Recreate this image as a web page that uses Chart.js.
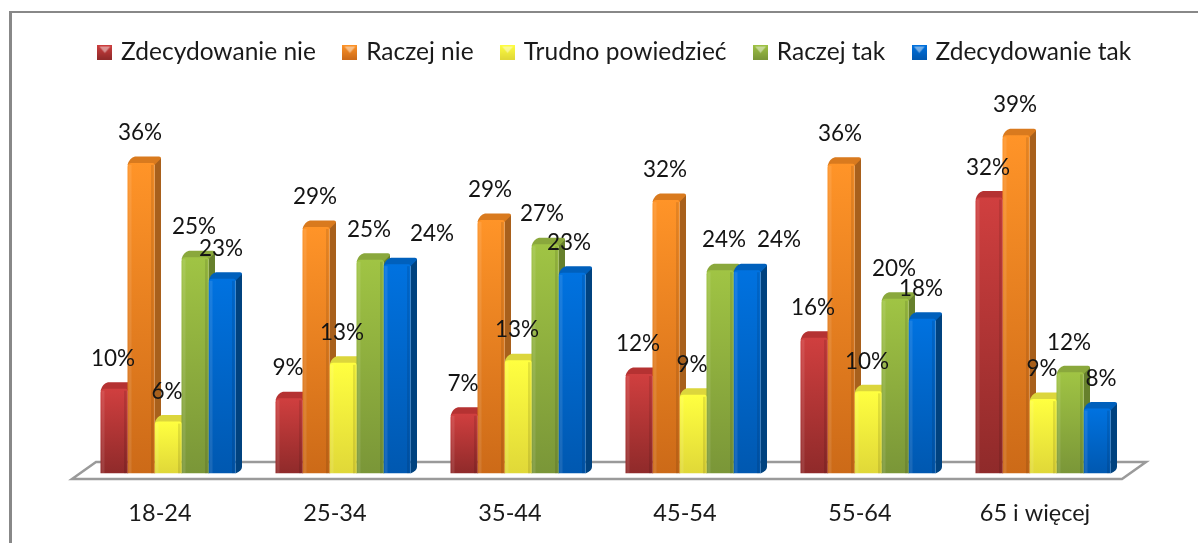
<!DOCTYPE html>
<html>
<head>
<meta charset="utf-8">
<style>html,body{margin:0;padding:0;background:#fff}canvas{display:block}</style>
<script src="https://cdn.jsdelivr.net/npm/chart.js@4"></script>
</head>
<body>
<canvas id="c" width="1198" height="543"></canvas>
<script>
const categories = ["18-24","25-34","35-44","45-54","55-64","65 i więcej"];
const seriesNames = ["Zdecydowanie nie","Raczej nie","Trudno powiedzieć","Raczej tak","Zdecydowanie tak"];
const zdecydowanieNie = [9.8,8.7,6.9,11.5,15.7,31.9];
const raczejNie = [35.9,28.5,29.3,31.6,35.8,39.1];
const trudnoPowiedziec = [6,12.8,13.1,9.1,9.5,8.6];
const raczejTak = [25,24.7,26.5,23.5,20.2,11.7];
const zdecydowanieTak = [22.5,24.2,23.2,23.5,17.9,7.5];
const seriesValues = [zdecydowanieNie,raczejNie,trudnoPowiedziec,raczejTak,zdecydowanieTak];
const frontTop = ["#d03f3f","#ff9428","#ffff40","#a0c444","#0072e0"];
const frontBottom = ["#8f2a2a","#cc6a18","#e0d838","#7a9638","#0058b0"];
const capColors = ["#b53232","#d97a1e","#dcd63c","#8aa83c","#0060bc"];
const sideColors = ["#8a2727","#a8601c","#b0a828","#66802c","#00427f"];

const DEPTH = 6.5;
const FONT = "Lato";
const labelNudge = {"4,1":35,"3,3":4,"3,2":-3,"4,2":-3,"4,3":32,"4,5":4};

function legendIcon(i){
  const s = 15, cv = document.createElement('canvas');
  cv.width = s; cv.height = s;
  const g = cv.getContext('2d');
  const gr = g.createLinearGradient(0,0,0,s);
  gr.addColorStop(0,frontTop[i]); gr.addColorStop(1,frontBottom[i]);
  g.fillStyle = gr; g.fillRect(0,0,s,s);
  g.fillStyle = "rgba(255,255,255,.45)";
  g.beginPath(); g.moveTo(2,2); g.lineTo(s-2,2); g.lineTo(s/2,s/2+1); g.closePath(); g.fill();
  return cv;
}

const scene = {
  id:'scene',
  afterLayout(chart){
    chart.legend.left += 17; chart.legend.right += 17;
  },
  beforeDraw(chart){
    const c = chart.ctx;
    c.save();
    c.fillStyle = "#fff"; c.fillRect(0,0,chart.width,chart.height);
    c.strokeStyle = "#888888"; c.lineCap = "butt";
    c.lineWidth = 2; c.beginPath(); c.moveTo(9,12); c.lineTo(chart.width,12); c.stroke();
    c.lineWidth = 3; c.beginPath(); c.moveTo(10.5,11); c.lineTo(10.5,chart.height); c.stroke();
    c.restore();
  },
  beforeDatasetsDraw(chart){
    const c = chart.ctx, xs = chart.scales.x, y0 = chart.scales.y.getPixelForValue(0);
    c.save();
    const l = xs.left-8.5, r = xs.right-8.5, f = y0+5.5, b = y0-11.5, d = 24;
    c.strokeStyle = "#9a9a9a"; c.lineWidth = 2.5; c.fillStyle = "#fff";
    c.beginPath(); c.moveTo(l,f); c.lineTo(l+d,b); c.lineTo(r+d,b); c.lineTo(r,f); c.closePath();
    c.fill(); c.stroke();
    seriesValues.forEach((vals,i)=>{
      chart.getDatasetMeta(i).data.forEach(bar=>{
        const x0 = bar.x-bar.width/2, x1 = bar.x+bar.width/2, t = bar.y, base = bar.base;
        const xr = x1+DEPTH, yt = t-DEPTH;
        c.fillStyle = sideColors[i];
        c.beginPath();
        c.moveTo(x1,t); c.lineTo(xr,yt+1); c.lineTo(xr,base-DEPTH); c.quadraticCurveTo(xr,base-3,x1,base);
        c.closePath(); c.fill();
        c.fillStyle = capColors[i];
        c.beginPath();
        c.moveTo(x0,t+2); c.quadraticCurveTo(x0+2,yt+1,x0+DEPTH+1,yt);
        c.lineTo(xr-2,yt); c.quadraticCurveTo(xr,yt,xr,yt+2); c.lineTo(x1,t+2);
        c.closePath(); c.fill();
      });
    });
    c.restore();
  },
  afterDatasetsDraw(chart){
    const c = chart.ctx;
    c.save();
    seriesValues.forEach((vals,i)=>{
      chart.getDatasetMeta(i).data.forEach(bar=>{
        const x0 = bar.x-bar.width/2, x1 = bar.x+bar.width/2;
        c.fillStyle = "rgba(255,255,255,.10)";
        c.fillRect(x0+1,bar.y+2,3,bar.base-bar.y-2);
        c.fillStyle = "rgba(0,0,0,.10)";
        c.fillRect(x1-3.5,bar.y+2,2.5,bar.base-bar.y-2);
      });
    });
    c.font = "22.5px "+FONT; c.fillStyle = "#141414"; c.textAlign = "center"; c.textBaseline = "middle";
    seriesValues.forEach((vals,i)=>{
      chart.getDatasetMeta(i).data.forEach((bar,j)=>{
        const nudge = labelNudge[i+","+j] || -1;
        c.fillText(Math.round(vals[j])+"%",bar.x+nudge,bar.y-30);
      });
    });
    c.restore();
  }
};

new Chart(document.getElementById('c'),{
  type:'bar',
  data:{
    labels:categories,
    datasets:seriesNames.map((name,i)=>({
      label:name,
      data:seriesValues[i],
      pointStyle:legendIcon(i),
      backgroundColor(ctx){
        const ys = ctx.chart.scales && ctx.chart.scales.y;
        if(!ys || ctx.raw === undefined) return frontTop[i];
        const top = ys.getPixelForValue(ctx.raw), bot = ys.getPixelForValue(0);
        if(!isFinite(top) || !isFinite(bot)) return frontTop[i];
        const g = ctx.chart.ctx.createLinearGradient(0,top,0,bot);
        g.addColorStop(0,frontTop[i]); g.addColorStop(1,frontBottom[i]);
        return g;
      },
      borderRadius:{topLeft:4,topRight:2,bottomLeft:0,bottomRight:0},
      borderSkipped:false,
      categoryPercentage:135/175,
      barPercentage:1
    }))
  },
  plugins:[scene],
  options:{
    responsive:false,
    animation:false,
    events:[],
    layout:{padding:{left:0,right:0,top:9.75,bottom:0}},
    plugins:{
      tooltip:{enabled:false},
      legend:{
        position:'top',
        labels:{usePointStyle:true,pointStyleWidth:8,boxWidth:15,boxHeight:15,padding:30,color:"#1a1a1a",font:{family:FONT,size:24.5}}
      }
    },
    scales:{
      x:{
        afterFit(s){ s.height = 69.5; },
        grid:{display:false},border:{display:false},
        ticks:{color:"#1a1a1a",font:{family:FONT,size:23.5},padding:17.5,labelOffset:-8,maxRotation:0}
      },
      y:{
        min:0,max:46.15,position:'left',
        grid:{display:false},border:{display:false},ticks:{display:false},
        afterFit(s){ s.width = 80.5; }
      },
      rightGutter:{
        position:'right',
        grid:{display:false},border:{display:false},ticks:{display:false},
        afterFit(s){ s.width = 67.5; }
      }
    }
  }
});
</script>
</body>
</html>
